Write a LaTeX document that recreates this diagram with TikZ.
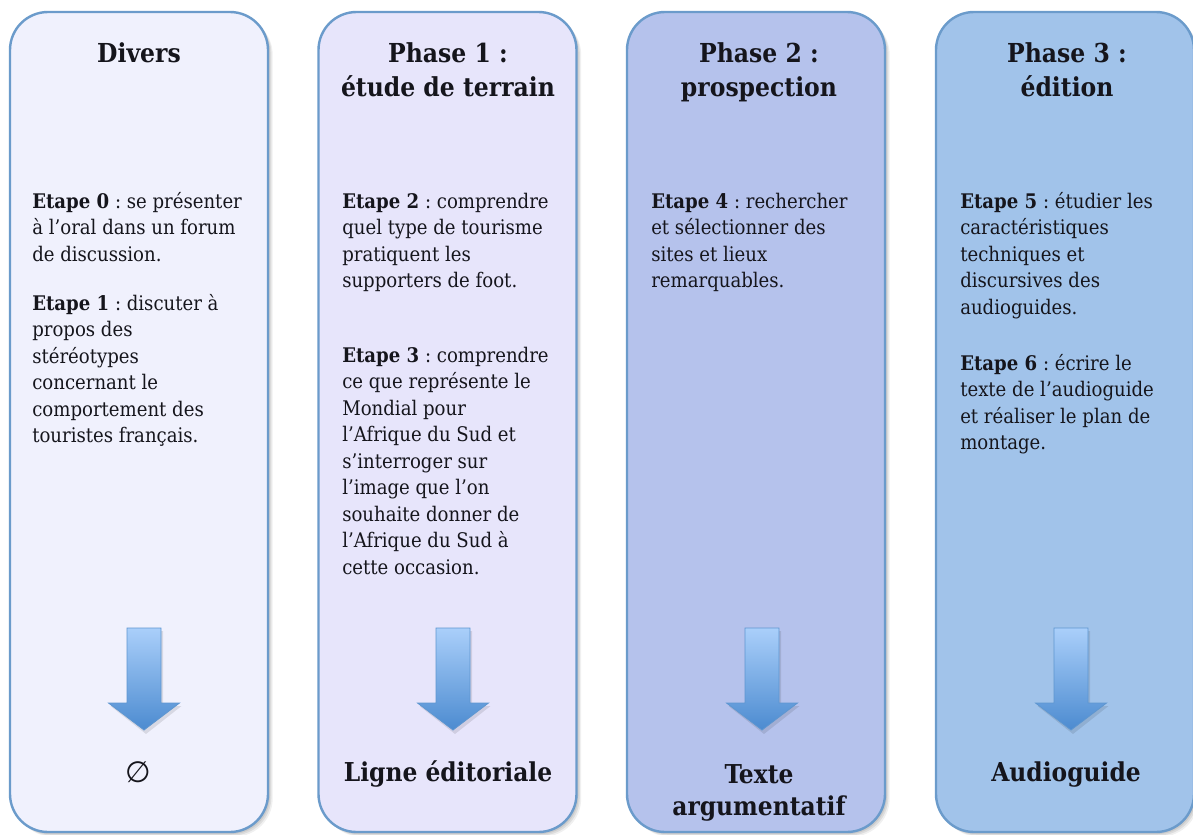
\documentclass[tikz,border=0pt]{standalone}
\usepackage{fontspec}
\setmainfont{DejaVu Serif Condensed}
\newfontfamily\symfont{DejaVu Sans}
\usetikzlibrary{shadows}
\definecolor{fillA}{HTML}{F0F1FD}
\definecolor{fillB}{HTML}{E7E5FB}
\definecolor{fillC}{HTML}{B5C2EC}
\definecolor{fillD}{HTML}{A1C3EA}
\definecolor{borderc}{HTML}{6B9BCB}
\definecolor{arrTop}{HTML}{AACFFA}
\definecolor{arrBot}{HTML}{4C8BD0}
\definecolor{arrLine}{HTML}{5E96D0}
\definecolor{txt}{HTML}{15151C}
\frenchspacing
\begin{document}
\begin{tikzpicture}[x=0.75pt,y=-0.75pt,
  colbox/.style={draw=borderc, line width=1.8pt, rounded corners=28.5pt,
    minimum width=193.5pt, minimum height=615pt, inner sep=0pt,
    general shadow={fill=black, opacity=0.08, shadow xshift=1.5pt, shadow yshift=-1.5pt},
    general shadow={fill=black, opacity=0.08, shadow xshift=2.5pt, shadow yshift=-2.5pt},
    general shadow={fill=black, opacity=0.06, shadow xshift=3.5pt, shadow yshift=-3.5pt}},
  titletxt/.style={anchor=base, inner sep=0pt, text=txt, font=\frenchspacing\bfseries\fontsize{19.6}{25.5}\selectfont},
  bodytxt/.style={anchor=base west, inner sep=0pt, text=txt, font=\frenchspacing\fontsize{15.1}{19.875}\selectfont},
  outtxt/.style={anchor=base, inner sep=0pt, text=txt, font=\frenchspacing\bfseries\fontsize{19.5}{24}\selectfont}]
\useasboundingbox (0,0) rectangle (1193,835);
\fill[white] (0,0) rectangle (1193,835);

\node[colbox, fill=fillA] (col1) at (139,422) {};
\node[colbox, fill=fillB] (col2) at (447.5,422) {};
\node[colbox, fill=fillC] (col3) at (756,422) {};
\node[colbox, fill=fillD] (col4) at (1065,422) {};

% titles
\node[titletxt] (t1) at (139,62) {Divers};
\node[titletxt] (t2) at (448,62) {\begin{tabular}[t]{@{}c@{}}Phase 1 :\\ étude de terrain\end{tabular}};
\node[titletxt] (t3) at (759,62) {\begin{tabular}[t]{@{}c@{}}Phase 2 :\\ prospection\end{tabular}};
\node[titletxt] (t4) at (1067,62) {\begin{tabular}[t]{@{}c@{}}Phase 3 :\\ édition\end{tabular}};

% body texts
\node[bodytxt] (p0) at (32,208) {\begin{tabular}[t]{@{}l@{}}\textbf{Etape 0} : se présenter\\ à l’oral dans un forum\\ de discussion.\end{tabular}};
\node[bodytxt] (p1) at (32,310) {\begin{tabular}[t]{@{}l@{}}\textbf{Etape 1} : discuter à\\ propos des\\ stéréotypes\\ concernant le\\ comportement des\\ touristes français.\end{tabular}};
\node[bodytxt] (p2) at (342,208) {\begin{tabular}[t]{@{}l@{}}\textbf{Etape 2} : comprendre\\ quel type de tourisme\\ pratiquent les\\ supporters de foot.\end{tabular}};
\node[bodytxt] (p3) at (342,362) {\begin{tabular}[t]{@{}l@{}}\textbf{Etape 3} : comprendre\\ ce que représente le\\ Mondial pour\\ l’Afrique du Sud et\\ s’interroger sur\\ l’image que l’on\\ souhaite donner de\\ l’Afrique du Sud à\\ cette occasion.\end{tabular}};
\node[bodytxt] (p4) at (651,208) {\begin{tabular}[t]{@{}l@{}}\textbf{Etape 4} : rechercher\\ et sélectionner des\\ sites et lieux\\ remarquables.\end{tabular}};
\node[bodytxt] (p5) at (960,208) {\begin{tabular}[t]{@{}l@{}}\textbf{Etape 5} : étudier les\\ caractéristiques\\ techniques et\\ discursives des\\ audioguides.\end{tabular}};
\node[bodytxt] (p6) at (960,370) {\begin{tabular}[t]{@{}l@{}}\textbf{Etape 6} : écrire le\\ texte de l’audioguide\\ et réaliser le plan de\\ montage.\end{tabular}};

% block arrows
\foreach \c in {144,453,762,1071} {
  \fill[black, opacity=0.10] (\c-15,631) -- (\c+19,631) -- (\c+19,706) -- (\c+37.5,706) -- (\c+2,734) -- (\c-33.5,706) -- (\c-15,706) -- cycle;
  \shadedraw[top color=arrTop, bottom color=arrBot, draw=arrLine, line width=0.6pt]
    (\c-17,628) -- (\c+17,628) -- (\c+17,703) -- (\c+35.5,703) -- (\c,730) -- (\c-35.5,703) -- (\c-17,703) -- cycle;
}

% outcomes
\node[anchor=base, inner sep=0pt, text=txt, font=\symfont\fontsize{22}{24}\selectfont] (o1) at (138,782) {∅};
\node[outtxt] (o2) at (448,781) {Ligne éditoriale};
\node[outtxt] (o3) at (759,783) {\begin{tabular}[t]{@{}c@{}}Texte\\ argumentatif\end{tabular}};
\node[outtxt] (o4) at (1066,781) {Audioguide};
\end{tikzpicture}
\end{document}
